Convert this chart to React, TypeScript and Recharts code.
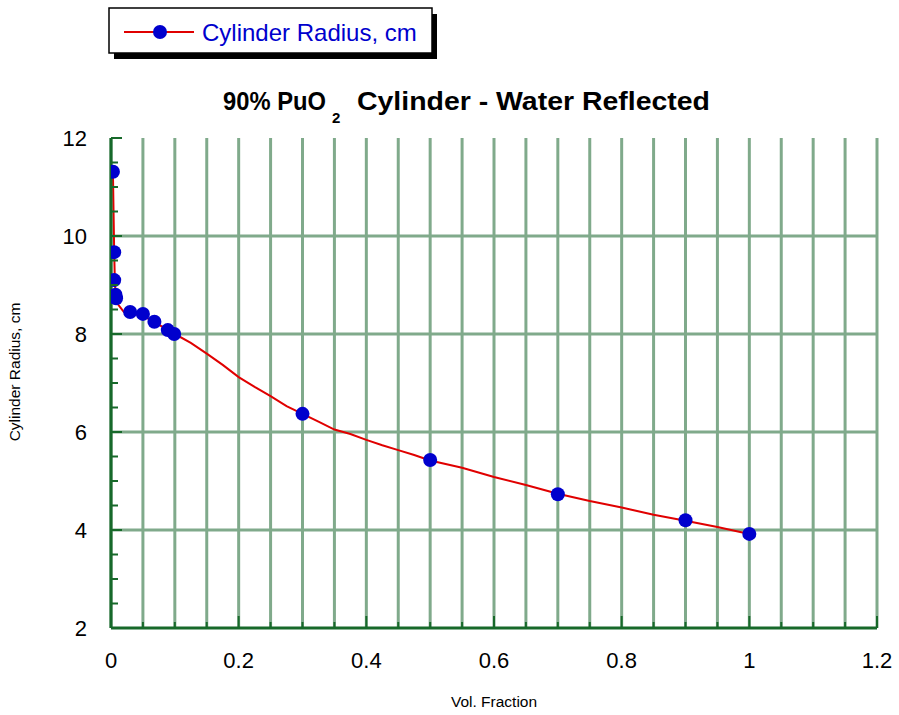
import React from 'react';
import {
  ComposedChart,
  Line,
  Scatter,
  XAxis,
  YAxis,
  CartesianGrid,
  ReferenceLine,
} from 'recharts';

// Measured data points (blue markers)
const pointX = [0.003, 0.005, 0.005, 0.007, 0.008, 0.03, 0.05, 0.068, 0.089, 0.099, 0.3, 0.5, 0.7, 0.9, 1.0];
const pointY = [11.31, 9.67, 9.1, 8.8, 8.73, 8.45, 8.41, 8.25, 8.08, 8.0, 6.37, 5.43, 4.73, 4.2, 3.92];

// Fitted curve (red line)
const curveX = [0.003, 0.005, 0.006, 0.007, 0.01, 0.02, 0.03, 0.05, 0.07, 0.09, 0.1, 0.125, 0.15, 0.175, 0.2, 0.225, 0.25, 0.275, 0.3, 0.325, 0.35, 0.375, 0.4, 0.425, 0.45, 0.475, 0.5, 0.55, 0.6, 0.65, 0.7, 0.75, 0.8, 0.85, 0.9, 0.95, 1.0];
const curveY = [11.31, 9.67, 9.1, 8.85, 8.62, 8.45, 8.42, 8.37, 8.23, 8.07, 8.0, 7.82, 7.6, 7.37, 7.12, 6.92, 6.73, 6.53, 6.37, 6.21, 6.05, 5.96, 5.84, 5.73, 5.63, 5.53, 5.42, 5.27, 5.08, 4.92, 4.74, 4.59, 4.46, 4.31, 4.19, 4.06, 3.92];

// Axis ticks
const xTicks = [0, 0.05, 0.1, 0.15, 0.2, 0.25, 0.3, 0.35, 0.4, 0.45, 0.5, 0.55, 0.6, 0.65, 0.7, 0.75, 0.8, 0.85, 0.9, 0.95, 1.0, 1.05, 1.1, 1.15, 1.2];
const xMajor = [0, 0.2, 0.4, 0.6, 0.8, 1.0, 1.2];
const xTopMajor = [0.1, 0.3, 0.5, 0.7, 0.9, 1.1];
const yTicks = [2, 2.5, 3, 3.5, 4, 4.5, 5, 5.5, 6, 6.5, 7, 7.5, 8, 8.5, 9, 9.5, 10, 10.5, 11, 11.5, 12];
const yMajor = [2, 4, 6, 8, 10, 12];
const yGrid = [4, 6, 8, 10];

const seriesName = 'Cylinder Radius, cm';
const titleMain = '90% PuO';
const titleSub = '2';
const titleRest = 'Cylinder - Water Reflected';
const xLabel = 'Vol. Fraction';
const yLabel = 'Cylinder Radius, cm';

const points = pointX.map((x, i) => ({ x, y: pointY[i] }));
const curve = curveX.map((x, i) => ({ x, y: curveY[i] }));

const FRAME = '#17692a';
const GRID = '#80aa8b';
const FONT = '"Liberation Sans", Arial, sans-serif';

const isIn = (arr: number[], v: number) => arr.some((a) => Math.abs(a - v) < 1e-6);
const fmt = (v: number) => String(Math.round(v * 10) / 10);

const BottomTick = (props: any) => {
  const { x, y, payload } = props;
  const v = payload.value;
  const major = isIn(xMajor, v);
  return (
    <g>
      <line x1={x} x2={x} y1={y} y2={y - (major ? 12 : 6)} stroke={FRAME} strokeWidth={2} />
      {major && (
        <text x={x} y={y + 40} textAnchor="middle" fontSize={22} fontFamily={FONT} fill="#000">
          {fmt(v)}
        </text>
      )}
    </g>
  );
};

const TopTick = (props: any) => {
  const { x, y, payload } = props;
  const v = payload.value;
  const major = isIn(xTopMajor, v);
  return <line x1={x} x2={x} y1={y} y2={y + (major ? 12 : 7)} stroke={FRAME} strokeWidth={2} />;
};

const LeftTick = (props: any) => {
  const { x, y, payload } = props;
  const v = payload.value;
  const major = isIn(yMajor, v);
  return (
    <g>
      <line x1={x} x2={x + (major ? 11 : 7)} y1={y} y2={y} stroke={FRAME} strokeWidth={2} />
      {major && (
        <text x={x - 24} y={y + 8} textAnchor="end" fontSize={22} fontFamily={FONT} fill="#000">
          {fmt(v)}
        </text>
      )}
    </g>
  );
};

const RightTick = (props: any) => {
  const { x, y, payload } = props;
  const v = payload.value;
  const major = isIn(yMajor, v);
  return <line x1={x} x2={x - (major ? 12 : 7)} y1={y} y2={y} stroke={FRAME} strokeWidth={2} />;
};

const Dot = (props: any) => {
  const { cx, cy } = props;
  return <circle cx={cx} cy={cy} r={7} fill="#0000cd" />;
};

export default function App() {
  return (
    <div style={{ position: 'absolute', left: 0, top: 0, width: 899, height: 715, background: '#fff' }}>
      <ComposedChart
        width={899}
        height={715}
        margin={{ top: 138, right: 22, bottom: 47, left: 51 }}
      >
        <CartesianGrid horizontal={false} vertical={true} stroke={GRID} strokeWidth={3} xAxisId={0} yAxisId={0} />
        {yGrid.map((v) => (
          <ReferenceLine key={v} y={v} yAxisId={0} xAxisId={0} stroke={GRID} strokeWidth={3} />
        ))}
        <XAxis
          xAxisId={0}
          dataKey="x"
          type="number"
          domain={[0, 1.2]}
          ticks={xTicks}
          interval={0}
          height={40}
          tickSize={0}
          tickMargin={0}
          tickLine={false}
          tick={<BottomTick />}
          axisLine={{ stroke: FRAME, strokeWidth: 3 }}
          allowDataOverflow
        />
        <XAxis
          xAxisId="top"
          orientation="top"
          dataKey="x"
          type="number"
          domain={[0, 1.2]}
          ticks={xTicks}
          interval={0}
          height={0}
          tickSize={0}
          tickMargin={0}
          tickLine={false}
          tick={<TopTick />}
          axisLine={{ stroke: FRAME, strokeWidth: 3 }}
          allowDataOverflow
        />
        <YAxis
          yAxisId={0}
          type="number"
          domain={[2, 12]}
          ticks={yTicks}
          interval={0}
          width={60}
          tickSize={0}
          tickMargin={0}
          tickLine={false}
          tick={<LeftTick />}
          axisLine={{ stroke: FRAME, strokeWidth: 3 }}
          allowDataOverflow
        />
        <YAxis
          yAxisId="right"
          orientation="right"
          type="number"
          domain={[2, 12]}
          ticks={yTicks}
          interval={0}
          width={0}
          tickSize={0}
          tickMargin={0}
          tickLine={false}
          tick={<RightTick />}
          axisLine={{ stroke: FRAME, strokeWidth: 3 }}
          allowDataOverflow
        />
        <Line
          xAxisId={0}
          yAxisId={0}
          data={curve}
          dataKey="y"
          type="linear"
          stroke="#e00000"
          strokeWidth={2}
          dot={false}
          activeDot={false}
          isAnimationActive={false}
          name={seriesName}
        />
        <Scatter
          xAxisId={0}
          yAxisId={0}
          data={points}
          dataKey="y"
          shape={<Dot />}
          isAnimationActive={false}
          name={seriesName}
        />
      </ComposedChart>
      <svg
        width={899}
        height={715}
        style={{ position: 'absolute', left: 0, top: 0, pointerEvents: 'none' }}
      >
        {/* Legend */}
        <rect x={114} y={14} width={323} height={45} fill="#000" />
        <rect x={109} y={8} width={323} height={45} fill="#fff" stroke="#000" strokeWidth={1.5} />
        <line x1={124} x2={194} y1={32} y2={32} stroke="#e00000" strokeWidth={2} />
        <circle cx={160} cy={32} r={7} fill="#0000cd" />
        <text x={202} y={41} fontSize={24} fontFamily={FONT} fill="#0000cd">
          {seriesName}
        </text>
        {/* Title */}
        <text x={223} y={110} fontSize={25} fontWeight="bold" fontFamily={FONT} fill="#000" textLength={103} lengthAdjust="spacingAndGlyphs">
          {titleMain}
        </text>
        <text x={332} y={123} fontSize={15} fontWeight="bold" fontFamily={FONT} fill="#000">
          {titleSub}
        </text>
        <text x={357} y={110} fontSize={25} fontWeight="bold" fontFamily={FONT} fill="#000" textLength={353} lengthAdjust="spacingAndGlyphs">
          {titleRest}
        </text>
        {/* Axis labels */}
        <text x={494} y={707} textAnchor="middle" fontSize={15.5} fontFamily={FONT} fill="#000">
          {xLabel}
        </text>
        <text
          x={20}
          y={372}
          textAnchor="middle"
          fontSize={15.5}
          fontFamily={FONT}
          fill="#000"
          transform="rotate(-90, 20, 372)"
        >
          {yLabel}
        </text>
      </svg>
    </div>
  );
}
